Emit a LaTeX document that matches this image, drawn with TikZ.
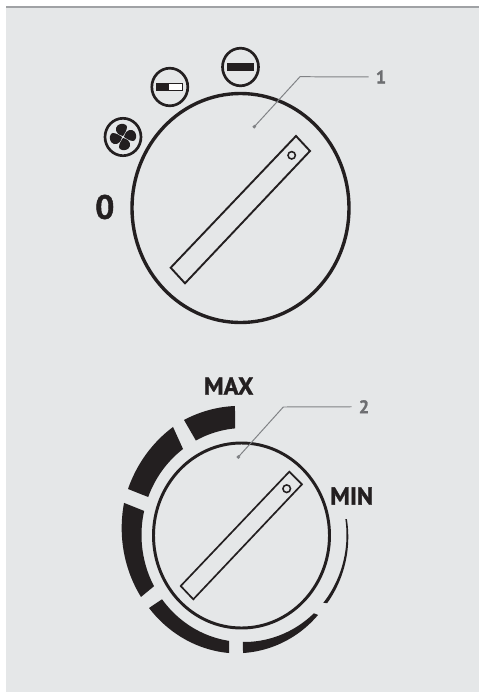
\documentclass[tikz,border=0pt]{standalone}
\usepackage{fontspec}
\setsansfont{PT Sans}[BoldFont={PT Sans Bold}, BoldFeatures={FakeBold=1.2}]
\usetikzlibrary{positioning,calc}
\definecolor{ink}{RGB}{35, 31, 32}
\definecolor{panel}{RGB}{229, 231, 232}
\definecolor{rim}{RGB}{160, 162, 165}
\definecolor{callout}{RGB}{128, 130, 133}
\definecolor{calltext}{RGB}{109, 110, 113}

\begin{document}
\begin{tikzpicture}[
    x=0.025cm, y=-0.025cm,
    font=\sffamily\bfseries,
    dial/.style={draw=ink, line width=#1, fill=none},
    slotbar/.style={draw=ink, line width=1.35pt, line join=miter},
    icon/.style={draw=ink, line width=1.9pt},
    band/.style={fill=ink},
    modeword/.style={text=ink, font=\sffamily\bfseries\fontsize{17.5}{20}\selectfont, inner sep=0pt},
    callnum/.style={text=calltext, font=\sffamily\bfseries\fontsize{13}{15}\selectfont, inner sep=5pt},
    calldot/.style={circle, fill=callout, inner sep=0pt, minimum size=2.8pt},
    leader/.style={draw=callout, line width=0.7pt}
]
\useasboundingbox (0,0) rectangle (479,692);

% Panel
\fill[panel] (6,6) rectangle (479,692);
\fill[rim] (6,6) rectangle (479,8);

% TOP SWITCH
\draw[dial=2.4pt] (240.5,208) ellipse [x radius=108.5, y radius=114.5];
\draw[slotbar] (296,136) -- (310,151) -- (185,283.3) -- (170.7,267.7) -- cycle;
\draw[ink, line width=1.1pt] (291.7,155.3) circle [radius=3.7];

% Mode icons
\draw[icon] (123,137) ellipse [x radius=18, y radius=18.7];
\foreach \ang in {0,90,180,270}{
    \fill[ink, shift={(123,137)}, rotate=\ang]
        (0,-1) .. controls (-4,-1.5) and (-8,-5) .. (-7,-9)
        .. controls (-6,-13) and (0,-14.5) .. (3,-12)
        .. controls (5.5,-10) and (3,-5.5) .. (0,-1) -- cycle;
}
\draw[icon] (169.8,87) ellipse [x radius=18, y radius=18.8];
\fill[white] (156,83) rectangle (182.7,90.7);
\fill[ink] (156,83) rectangle (169,90.7);
\draw[ink, line width=0.6pt] (156,83) rectangle (182.7,90.7);
\draw[icon] (240.5,67) ellipse [x radius=18, y radius=18.8];
\fill[ink] (226.7,63.3) rectangle (254,71);

\node[modeword, font=\sffamily\bfseries\fontsize{24}{28}\selectfont] (zero) at (104.8,207) {0};

% Callout 1
\node[calldot] (dot1) at (254.3,126.7) {};
\coordinate (elbow1) at (300,76.7);
\node[callnum] (num1) at (381,77) {1};
\draw[leader] (dot1.center) -- (elbow1) -- (num1);

% BOTTOM SWITCH
\draw[dial=2.1pt] (241.5,535.5) ellipse [x radius=88, y radius=92.5];
\draw[slotbar, line width=1.2pt] (289.3,471.7) -- (302,484.3) -- (193.3,599.3) -- (180.7,586) -- cycle;
\draw[ink, line width=1.1pt] (286.7,488.7) circle [radius=3.8];

% Power scale: outer angles, outer radii, inner angles
\foreach \ta/\tb/\ra/\rb/\ia/\ib in {
    94.2/118.7/123.2/124.9/118/95,
    124.6/159.3/125/124/159.2/126.5,
    165.7/209.8/123.8/118.7/208.6/167,
    216.2/262.4/117.7/113.4/261.6/216.9,
    269.5/314.2/112.4/106.2/313/269.4,
    322/368.3/105.5/104/368.6/320.7}{
    \fill[band]
        plot[domain=\ta:\tb, samples=30] ({244+(\ra+(\rb-\ra)*(\x-\ta)/(\tb-\ta))*cos(\x)},{535-1.05*(\ra+(\rb-\ra)*(\x-\ta)/(\tb-\ta))*sin(\x)})
        -- plot[domain=\ia:\ib, samples=30] ({244+102.5*cos(\x)},{535-107*sin(\x)}) -- cycle;
}

\node[modeword] (maxword) at (228.7,386) {MAX};
\node[modeword] (minword) at (351.7,496) {MIN};

% Callout 2
\node[calldot] (dot2) at (238.3,457) {};
\coordinate (elbow2) at (283.3,407);
\node[callnum] (num2) at (364,406.7) {2};
\draw[leader] (dot2.center) -- (elbow2) -- (num2);

\end{tikzpicture}
\end{document}
